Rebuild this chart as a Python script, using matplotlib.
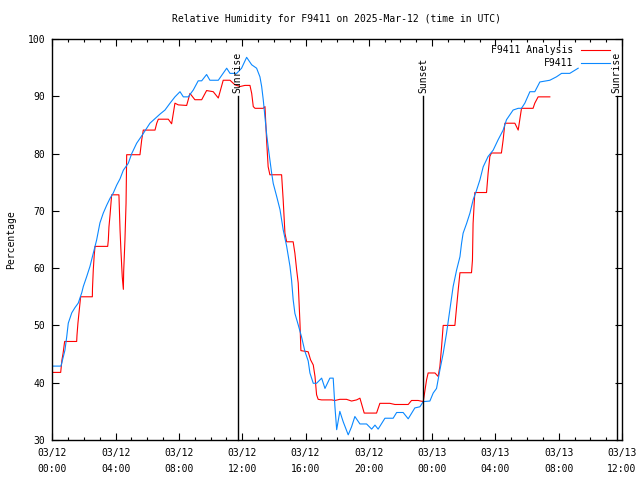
import matplotlib
matplotlib.use("Agg")
import matplotlib.pyplot as plt
from matplotlib.ticker import MultipleLocator

# ---- data (hours since 2025-03-12 00:00 UTC, relative humidity %) ----
obs_hours = [0.0, 0.55, 0.80, 0.91, 1.01, 1.23, 1.43, 1.64, 1.86, 1.96, 2.17, 2.38, 2.59, 2.80,
             3.01, 3.22, 3.44, 3.65, 3.85, 4.07, 4.28, 4.49, 4.80, 5.02, 5.33, 5.75, 6.17, 6.81,
             7.12, 7.44, 7.75, 8.07, 8.28, 8.59, 8.91, 9.22, 9.44, 9.75, 9.96, 10.49, 11.02,
             11.23, 11.65, 11.96, 12.28, 12.60, 12.91, 13.12, 13.23, 13.33, 13.44, 13.54, 13.64,
             13.75, 13.86, 13.96, 14.18, 14.39, 14.59, 14.81, 15.02, 15.12, 15.22, 15.33, 15.54,
             15.75, 15.96, 16.17, 16.28, 16.49, 16.70, 17.02, 17.23, 17.54, 17.75, 17.86, 17.97,
             18.17, 18.38, 18.70, 18.91, 19.12, 19.44, 19.86, 20.18, 20.39, 20.59, 21.02, 21.54,
             21.76, 22.17, 22.49, 22.91, 23.23, 23.44, 23.86, 24.07, 24.28, 24.38, 24.49, 24.70,
             24.91, 25.12, 25.33, 25.55, 25.76, 25.86, 25.96, 26.18, 26.39, 26.60, 26.81, 27.02,
             27.23, 27.54, 27.86, 28.17, 28.49, 28.70, 29.12, 29.44, 29.65, 29.86, 30.18, 30.49,
             30.81, 31.44, 31.86, 32.18, 32.70, 33.23]
obs_rh = [42.9, 42.9, 45.7, 48.0, 50.4, 52.2, 53.1, 53.9, 55.7, 56.8, 58.5, 60.3, 62.6, 64.9,
          67.9, 69.6, 71.0, 72.2, 73.1, 74.5, 75.6, 77.1, 78.3, 80.0, 81.8, 83.5, 85.3, 86.9,
          87.6, 88.8, 89.9, 90.8, 89.9, 89.9, 91.1, 92.7, 92.7, 93.8, 92.8, 92.8, 94.9,
          94.0, 94.0, 94.9, 96.8, 95.5, 94.9, 93.4, 91.7, 89.4, 86.4, 83.5, 81.2,
          78.9, 76.6, 74.8, 72.5, 70.2, 66.7, 63.8, 60.3, 57.9, 54.5, 52.1, 50.1,
          48.0, 45.5, 43.8, 41.7, 39.9, 39.9, 40.8, 39.0, 40.8, 40.8, 35.8, 31.8,
          35.0, 33.2, 30.9, 32.3, 34.1, 32.8, 32.8, 31.9, 32.6, 31.9, 33.8, 33.8,
          34.8, 34.8, 33.7, 35.6, 35.8, 36.7, 36.8, 38.2, 39.0, 40.5, 42.2, 45.1,
          48.6, 52.7, 56.8, 59.7, 62.0, 64.3, 66.1, 67.8, 69.6, 72.0, 73.6, 75.4,
          77.7, 79.5, 80.6, 82.4, 84.1, 85.9, 87.6, 87.9, 87.9, 88.8, 90.8, 90.8,
          92.5, 92.8, 93.4, 94.0, 94.0, 94.9]

ana_hours = [0.0, 0.53, 0.61, 0.68, 0.78, 1.54, 1.56, 1.62, 1.69, 1.79, 2.53, 2.54, 2.59, 2.65,
             2.70, 3.50, 3.54, 3.58, 3.65, 3.75, 4.21, 4.28, 4.34, 4.42, 4.49, 4.51, 4.59, 4.66,
             4.70, 5.54, 5.65, 5.75, 6.49, 6.60, 6.70, 7.33, 7.54, 7.75, 7.96, 8.49, 8.70, 9.01,
             9.44, 9.75, 10.17, 10.49, 10.80, 11.23, 11.54, 11.86, 12.17, 12.49, 12.60, 12.70,
             12.81, 13.33, 13.44, 13.50, 13.54, 13.64, 13.75, 14.49, 14.59, 14.70, 14.81, 15.22,
             15.33, 15.44, 15.54, 15.65, 15.71, 16.17, 16.32, 16.49, 16.60, 16.70, 16.80, 17.02,
             17.65, 17.86, 18.17, 18.59, 18.91, 19.23, 19.44, 19.71, 20.49, 20.70, 21.33, 21.65,
             22.49, 22.70, 23.12, 23.44, 23.54, 23.65, 23.75, 24.18, 24.38, 24.49, 24.60, 24.70,
             25.44, 25.55, 25.65, 25.76, 26.49, 26.55, 26.59, 26.66, 26.70, 27.44, 27.54, 27.65,
             27.75, 28.38, 28.49, 28.60, 29.23, 29.44, 29.54, 29.65, 30.38, 30.49, 30.70, 31.44]
ana_rh = [41.8, 41.8, 44.0, 45.1, 47.2, 47.2, 48.3, 50.4, 52.3, 55.0, 55.0, 56.5, 59.7, 62.3,
          63.8, 63.8, 64.9, 67.2, 69.3, 72.8, 72.8, 66.7, 62.9, 58.5, 56.3, 59.4, 64.9, 71.3,
          79.8, 79.8, 82.4, 84.1, 84.1, 85.3, 86.0, 86.0, 85.2, 88.8, 88.5, 88.4, 90.5, 89.4,
          89.4, 91.0, 90.8, 89.7, 92.8, 92.8, 92.0, 91.7, 91.9, 91.9, 90.5, 88.2,
          87.9, 87.9, 88.2, 84.7, 82.4, 77.7, 76.3, 76.3, 71.9, 66.1, 64.6, 64.6,
          62.6, 59.7, 57.4, 50.4, 45.6, 45.4, 44.0, 43.1, 41.1, 37.9, 37.1, 37.0,
          37.0, 36.9, 37.1, 37.1, 36.8, 37.0, 37.3, 34.7, 34.7, 36.4, 36.4, 36.2,
          36.2, 36.9, 36.9, 36.7, 38.5, 40.5, 41.7, 41.7, 41.1, 42.8, 46.3, 50.0,
          50.0, 53.3, 56.2, 59.2, 59.2, 61.4, 67.8, 71.3, 73.2, 73.2, 76.6, 79.5,
          80.1, 80.1, 82.4, 85.3, 85.3, 84.1, 85.9, 87.9, 87.9, 88.8, 89.9, 89.9]

sun_events = ["Sunrise", "Sunset", "Sunrise"]
sun_hours = [11.71, 23.44, 35.66]

tick_hours = [0, 4, 8, 12, 16, 20, 24, 28, 32, 36]
tick_labels = ["03/12\n00:00", "03/12\n04:00", "03/12\n08:00", "03/12\n12:00", "03/12\n16:00",
               "03/12\n20:00", "03/13\n00:00", "03/13\n04:00", "03/13\n08:00", "03/13\n12:00"]

FONT = "DejaVu Sans Mono"
FS = 7

fig = plt.figure(figsize=(6.4, 4.8), dpi=100)
ax = fig.add_axes([52.3 / 640, 1 - 440 / 480, (622 - 52.3) / 640, (440 - 39) / 480])

ax.plot(ana_hours, ana_rh, color="#ff0000", lw=0.8, label="F9411 Analysis")
ax.plot(obs_hours, obs_rh, color="#0a88ff", lw=0.8, label="F9411")

for name, h in zip(sun_events, sun_hours):
    ax.plot([h, h], [30, 90], color="black", lw=1.0, clip_on=False)
    ax.text(h, 90.6, name, rotation=90, ha="center", va="bottom",
            fontsize=FS, family=FONT)

ax.set_xlim(0, 36)
ax.set_ylim(30, 100)
ax.set_xticks(tick_hours)
ax.set_xticklabels(tick_labels, family=FONT, fontsize=FS, linespacing=1.65)
ax.xaxis.set_minor_locator(MultipleLocator(1))
ax.set_yticks(range(30, 101, 10))
ax.set_yticklabels([str(v) for v in range(30, 101, 10)], family=FONT, fontsize=FS)
ax.tick_params(which="major", direction="in", length=5, width=0.8, top=True, right=True, pad=5)
ax.tick_params(which="minor", direction="in", length=2.5, width=0.8, top=True, right=False)
ax.tick_params(axis="x", which="major", pad=6)
for s in ax.spines.values():
    s.set_linewidth(1.0)

leg = ax.legend(loc="upper right", frameon=False, prop={"family": FONT, "size": FS},
                handlelength=3.0, handletextpad=0.75, markerfirst=False,
                borderaxespad=0.0, borderpad=0.0, labelspacing=0.28,
                bbox_to_anchor=((610 - 52.3) / 569.7, 1 - (45.5 - 39) / 401))
for t in leg.get_texts():
    t.set_ha("right")

fig.text(337 / 640, 1 - 19 / 480, "Relative Humidity for F9411 on 2025-Mar-12 (time in UTC)",
         ha="center", va="center", family=FONT, fontsize=FS)
fig.text(11 / 640, 1 - 240 / 480, "Percentage", rotation=90, ha="center", va="center",
         family=FONT, fontsize=FS)

fig.savefig("out.png", dpi=100)
